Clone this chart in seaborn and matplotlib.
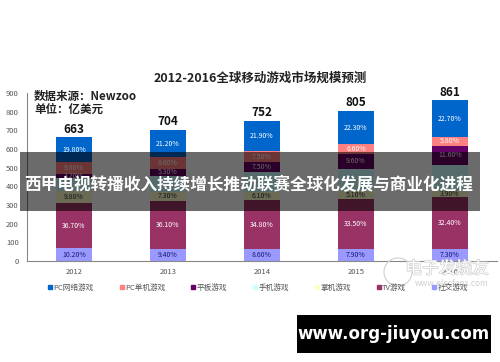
import matplotlib
matplotlib.use("Agg")
import matplotlib.pyplot as plt
import matplotlib.patheffects as pe
from matplotlib.lines import Line2D
from matplotlib.patches import Rectangle, Ellipse
import numpy as np
import seaborn as sns

# Données (parts en %, totaux en 亿美元)
years = ["2012", "2013", "2014", "2015", "2016"]
totals = [663, 704, 752, 805, 861]

series = ["PC网络游戏", "PC单机游戏", "平板游戏", "手机游戏", "掌机游戏", "TV游戏", "社交游戏"]
pc_online = [19.8, 21.2, 21.9, 22.3, 22.7]
pc_single = [9.8, 8.6, 7.5, 6.6, 5.8]
tablet = [3.2, 5.3, 7.5, 9.6, 11.6]
phone = [10.5, 12.1, 13.6, 15.0, 16.3]
handheld = [9.8, 7.3, 6.1, 5.1, 3.9]
tv = [36.7, 36.1, 34.8, 33.5, 32.4]
social = [10.2, 9.4, 8.6, 7.9, 7.3]

colors = ["#0066CC", "#FF8080", "#660066", "#CCFFFF", "#FFFFCC", "#993366", "#9999FF"]
label_colors = ["white", "white", "white", None, "#333333", "white", "#1a1a6e"]

sns.set_style("white")
plt.rcParams["font.family"] = ["Noto Sans CJK SC", "DejaVu Sans"]

fig = plt.figure(figsize=(5, 3.62), dpi=100)
ax = fig.add_axes([0.054, 0.279, 0.94, 0.464])

# empilement : du bas (社交) vers le haut (PC网络)
stack = [social, tv, handheld, phone, tablet, pc_single, pc_online]
stack_colors = colors[::-1]
stack_lbl = label_colors[::-1]
tot = np.array(totals, dtype=float)
heights = [tot * np.array(s) / 100 for s in stack]
cums = np.cumsum(heights, axis=0)

# on dessine les cumuls du plus haut au plus bas
for i in range(len(stack) - 1, -1, -1):
    sns.barplot(x=years, y=cums[i], color=stack_colors[i], saturation=1,
                width=0.39, linewidth=0, ax=ax)

# étiquettes des segments
for i, s in enumerate(stack):
    if stack_lbl[i] is None:
        continue
    for j in range(len(years)):
        yc = cums[i][j] - heights[i][j] / 2
        ax.text(j, yc, f"{s[j]:.2f}%", ha="center", va="center",
                fontsize=5, color=stack_lbl[i])

# totaux au-dessus des barres
for j, t in enumerate(totals):
    ax.text(j, t + 8, str(t), ha="center", va="bottom", fontsize=8.5,
            fontweight="bold", color="#111111")

ax.set_xlim(-0.5, 4.5)
ax.set_ylim(0, 900)
ax.set_yticks(range(0, 901, 100))
ax.set_xticks(np.arange(0.5, 4.5, 1.0), minor=True)
ax.tick_params(axis="y", labelsize=5.5, labelcolor="#555555", length=2,
               direction="in", color="#888888", pad=6)
ax.tick_params(axis="x", labelsize=5.5, labelcolor="#555555", length=0, pad=5)
ax.tick_params(axis="x", which="minor", length=3, direction="in", color="#888888")
ax.set_xlabel("")
ax.set_ylabel("")
for side in ["top", "right"]:
    ax.spines[side].set_visible(False)
for side in ["left", "bottom"]:
    ax.spines[side].set_color("#888888")
    ax.spines[side].set_linewidth(0.8)

# titre et source
fig.text(0.52, 1 - 78 / 362, "2012-2016全球移动游戏市场规模预测", ha="center",
         va="center", fontsize=9, fontweight="bold", color="#222222")
fig.text(34 / 500, 1 - 96 / 362, "数据来源：Newzoo", ha="left", va="center",
         fontsize=8.3, fontweight="bold", color="#222222")
fig.text(34 / 500, 1 - 109 / 362, "单位：亿美元", ha="left", va="center",
         fontsize=8.3, fontweight="bold", color="#222222")

# légende
handles = [Line2D([], [], marker="s", ls="", color=c, markersize=2.5) for c in colors]
leg = fig.legend(handles, series, loc="center", ncol=7, frameon=False,
                 bbox_to_anchor=(0.516, 1 - 288 / 362), fontsize=5.5,
                 handlelength=0.6, handletextpad=0.1, columnspacing=3.4)
for t in leg.get_texts():
    t.set_color("#555555")

# filigrane elecfans (lettres blanches contour gris clair)
halo = [pe.Stroke(linewidth=1.0, foreground="#cfcfcf"), pe.Normal()]
fig.add_artist(Ellipse((398 / 500, 1 - 272 / 362), 28 / 500, 28 / 362,
                       transform=fig.transFigure, fill=False,
                       edgecolor="#d4d4d4", linewidth=0.9, zorder=4))
fig.text(447 / 500, 1 - 269 / 362, "电子发烧友", ha="center", va="center",
         fontsize=12, color="white", style="italic", zorder=4, path_effects=halo)
fig.text(452 / 500, 1 - 284 / 362, "www.elecfans.com", ha="center", va="center",
         fontsize=6, color="#cfcfcf", style="italic", zorder=4)

# bandeau semi-transparent
fig.add_artist(Rectangle((20 / 500, 1 - 211 / 362), 460 / 500, 59 / 362,
                         transform=fig.transFigure, facecolor="black",
                         alpha=0.58, linewidth=0, zorder=5))
fig.text(249 / 500, 1 - 185 / 362, "西甲电视转播收入持续增长推动联赛全球化发展与商业化进程",
         ha="center", va="center", fontsize=12, fontweight="bold",
         color="white", zorder=6)

# cartouche en bas à droite
fig.add_artist(Rectangle((297 / 500, 1 - 353 / 362), 194 / 500, 38 / 362,
                         transform=fig.transFigure, facecolor="black",
                         linewidth=0, zorder=5))
fig.text(394 / 500, 1 - 334 / 362, "www.org-jiuyou.com", ha="center", va="center",
         fontsize=12, fontweight="bold", color="white", zorder=6,
         family=["DejaVu Sans"])

fig.savefig("out.png", dpi=100)
